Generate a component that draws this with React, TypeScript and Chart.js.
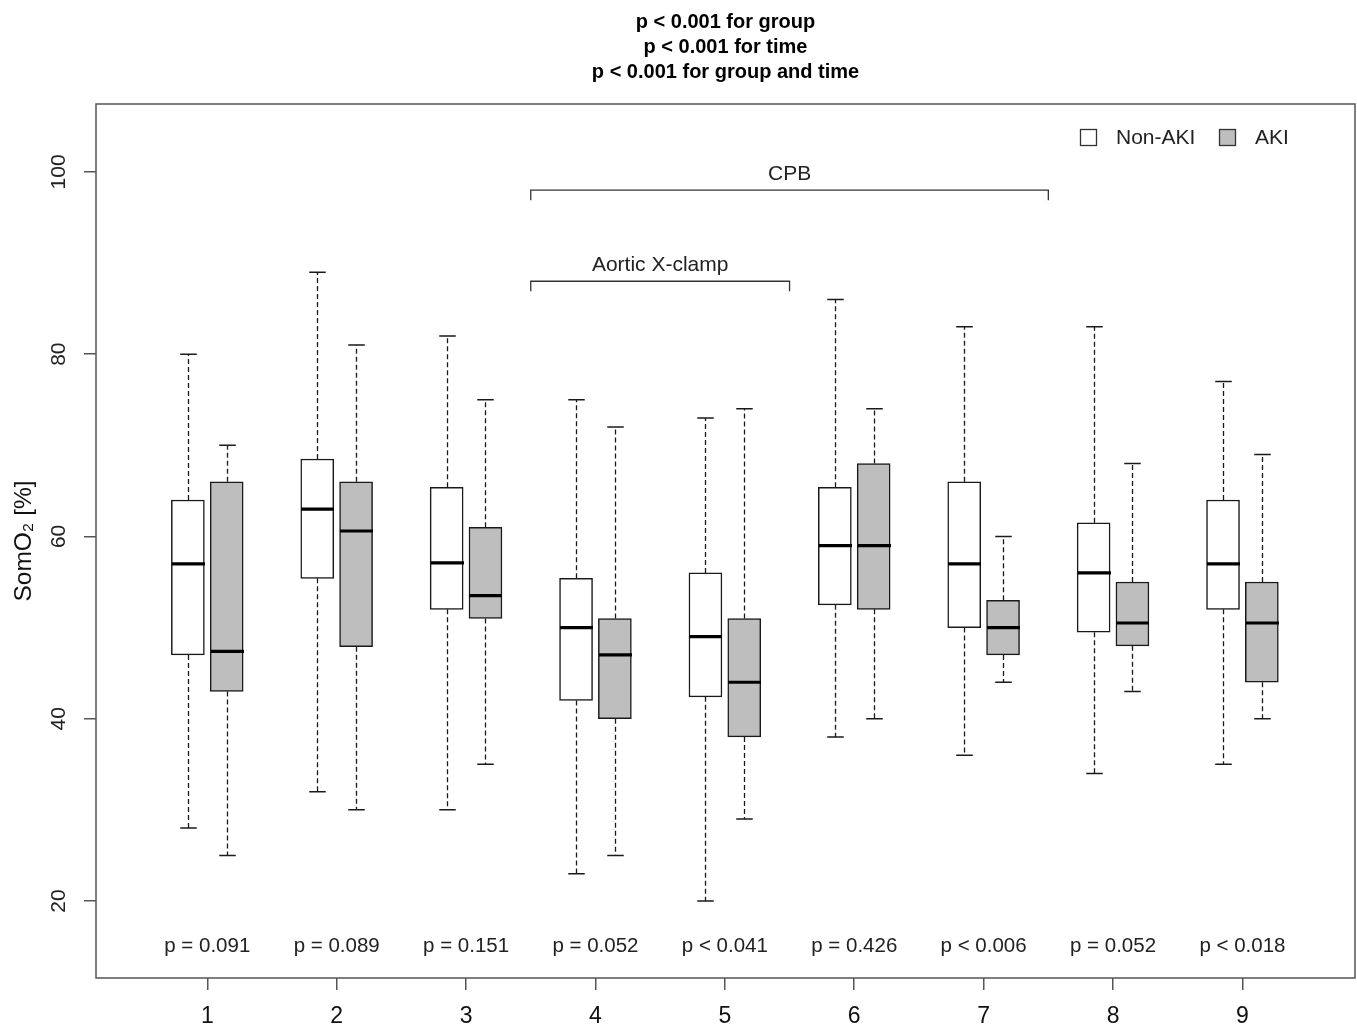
import React, { useEffect, useRef } from "react";
import { Chart, registerables } from "chart.js";

Chart.register(...registerables);

// ---- data ----
const timePoints = ["1", "2", "3", "4", "5", "6", "7", "8", "9"];

const nonAkiMin = [28, 32, 30, 23, 20, 38, 36, 34, 35];
const nonAkiQ1 = [47, 55.4, 52, 42, 42.4, 52.5, 50, 49.5, 52];
const nonAkiMedian = [57, 63, 57.1, 50, 49, 59, 57, 56, 57];
const nonAkiQ3 = [64, 68.5, 65.4, 55.4, 56, 65.4, 66, 61.5, 64];
const nonAkiMax = [80, 89, 82, 75, 73, 86, 83, 83, 77];

const akiMin = [25, 30, 35, 25, 29, 40, 44, 43, 40];
const akiQ1 = [43, 47.9, 51, 40, 38, 52, 47, 48, 44];
const akiMedian = [47.4, 60.6, 53.5, 47, 44, 59, 50, 50.5, 50.5];
const akiQ3 = [66, 66, 61, 51, 51, 68, 53, 55, 55];
const akiMax = [70, 81, 75, 72, 74, 74, 60, 68, 69];

const pValues = [
  "p = 0.091",
  "p = 0.089",
  "p = 0.151",
  "p = 0.052",
  "p < 0.041",
  "p = 0.426",
  "p < 0.006",
  "p = 0.052",
  "p < 0.018",
];

const yTicks = [20, 40, 60, 80, 100];
const titleLines = ["p < 0.001 for group", "p < 0.001 for time", "p < 0.001 for group and time"];
const seriesNames = ["Non-AKI", "AKI"];

// brackets: [label, fromTime, toTime, level]
const brackets: [string, number, number, number][] = [
  ["CPB", 3.5, 7.5, 98],
  ["Aortic X-clamp", 3.5, 5.5, 88],
];

// ---- styles ----
const FONT = "'Liberation Sans', Arial, sans-serif";
const OFFSET = 0.15;
const BOX_W = 33;
const AKI_FILL = "#bebebe";
const LINE = "#1a1a1a";
const AXIS = "#555555";
const P_LEVEL = 15;

const boxPlugin = {
  id: "boxExtras",
  afterDatasetsDraw(chart: any) {
    const { ctx, chartArea } = chart;
    const x = chart.scales.x;
    const y = chart.scales.y;
    ctx.save();

    const groups = [
      { off: -OFFSET, mins: nonAkiMin, q1: nonAkiQ1, med: nonAkiMedian, q3: nonAkiQ3, maxs: nonAkiMax },
      { off: OFFSET, mins: akiMin, q1: akiQ1, med: akiMedian, q3: akiQ3, maxs: akiMax },
    ];
    groups.forEach((g) => {
      timePoints.forEach((_, i) => {
        const cx = Math.round(x.getPixelForValue(i + 1 + g.off)) + 0.5;
        const yMin = y.getPixelForValue(g.mins[i]);
        const yMax = y.getPixelForValue(g.maxs[i]);
        const yQ1 = y.getPixelForValue(g.q1[i]);
        const yQ3 = y.getPixelForValue(g.q3[i]);
        const yMed = y.getPixelForValue(g.med[i]);
        // dashed whiskers
        ctx.strokeStyle = LINE;
        ctx.lineWidth = 1.3;
        ctx.setLineDash([5, 3]);
        ctx.beginPath();
        ctx.moveTo(cx, yQ3);
        ctx.lineTo(cx, yMax);
        ctx.moveTo(cx, yQ1);
        ctx.lineTo(cx, yMin);
        ctx.stroke();
        ctx.setLineDash([]);
        // caps
        ctx.lineWidth = 1.5;
        ctx.beginPath();
        ctx.moveTo(cx - BOX_W / 4, yMax);
        ctx.lineTo(cx + BOX_W / 4, yMax);
        ctx.moveTo(cx - BOX_W / 4, yMin);
        ctx.lineTo(cx + BOX_W / 4, yMin);
        ctx.stroke();
        // median
        ctx.lineWidth = 3.2;
        ctx.strokeStyle = "#000";
        ctx.beginPath();
        ctx.moveTo(cx - BOX_W / 2, yMed);
        ctx.lineTo(cx + BOX_W / 2, yMed);
        ctx.stroke();
      });
    });

    // p-values
    ctx.fillStyle = "#222";
    ctx.font = `20.5px ${FONT}`;
    ctx.textAlign = "center";
    ctx.textBaseline = "middle";
    pValues.forEach((p, i) => {
      ctx.fillText(p, x.getPixelForValue(i + 1), y.getPixelForValue(P_LEVEL));
    });

    // brackets
    ctx.strokeStyle = "#333";
    ctx.lineWidth = 1.3;
    ctx.font = `21px ${FONT}`;
    brackets.forEach(([label, a, b, level]) => {
      const xa = x.getPixelForValue(a);
      const xb = x.getPixelForValue(b);
      const yl = y.getPixelForValue(level);
      const yd = y.getPixelForValue(level - 1.1);
      ctx.beginPath();
      ctx.moveTo(xa, yd);
      ctx.lineTo(xa, yl);
      ctx.lineTo(xb, yl);
      ctx.lineTo(xb, yd);
      ctx.stroke();
      ctx.fillText(label, (xa + xb) / 2, y.getPixelForValue(level + 1.75));
    });

    // legend
    const ly = chartArea.top + 33;
    const items = [
      { name: seriesNames[0], fill: "#ffffff", sx: chartArea.right - 275, tx: chartArea.right - 239 },
      { name: seriesNames[1], fill: AKI_FILL, sx: chartArea.right - 136, tx: chartArea.right - 100 },
    ];
    ctx.textAlign = "left";
    ctx.font = `21px ${FONT}`;
    items.forEach((it) => {
      ctx.fillStyle = it.fill;
      ctx.fillRect(it.sx, ly - 8, 16, 16);
      ctx.strokeStyle = "#333";
      ctx.lineWidth = 1.3;
      ctx.strokeRect(it.sx + 0.5, ly - 7.5, 16, 16);
      ctx.fillStyle = "#222";
      ctx.fillText(it.name, it.tx, ly + 1);
    });

    ctx.restore();
  },
  afterDraw(chart: any) {
    const { ctx, chartArea } = chart;
    const y = chart.scales.y;
    ctx.save();
    // plot frame
    ctx.strokeStyle = AXIS;
    ctx.lineWidth = 1.5;
    ctx.strokeRect(chartArea.left, chartArea.top, chartArea.right - chartArea.left, chartArea.bottom - chartArea.top);
    // rotated y tick labels
    ctx.fillStyle = "#222";
    ctx.font = `21px ${FONT}`;
    ctx.textAlign = "center";
    ctx.textBaseline = "middle";
    y.ticks.forEach((t: any) => {
      const py = y.getPixelForValue(t.value);
      ctx.save();
      ctx.translate(59, py);
      ctx.rotate(-Math.PI / 2);
      ctx.fillText(String(t.value), 0, 0);
      ctx.restore();
    });
    ctx.restore();
  },
};

export default function App() {
  const ref = useRef<HTMLCanvasElement | null>(null);
  useEffect(() => {
    if (!ref.current) return;
    const chart = new Chart(ref.current, {
      type: "bar",
      data: {
        datasets: [
          {
            label: seriesNames[0],
            data: timePoints.map((_, i) => ({ x: i + 1 - OFFSET, y: [nonAkiQ1[i], nonAkiQ3[i]] })) as any,
            backgroundColor: "#ffffff",
            borderColor: LINE,
            borderWidth: 1.5,
            borderSkipped: false,
            barThickness: BOX_W,
            grouped: false,
          },
          {
            label: seriesNames[1],
            data: timePoints.map((_, i) => ({ x: i + 1 + OFFSET, y: [akiQ1[i], akiQ3[i]] })) as any,
            backgroundColor: AKI_FILL,
            borderColor: LINE,
            borderWidth: 1.5,
            borderSkipped: false,
            barThickness: BOX_W,
            grouped: false,
          },
        ],
      },
      options: {
        responsive: false,
        animation: false,
        layout: { padding: { left: 0, right: 2, top: 0, bottom: 0 } },
        plugins: {
          legend: { display: false },
          tooltip: { enabled: false },
          title: {
            display: true,
            text: titleLines,
            fullSize: false,
            color: "#000",
            font: { family: FONT, size: 20, weight: "bold", lineHeight: 1.25 },
            padding: { top: 10, bottom: 19 },
          },
        },
        scales: {
          x: {
            type: "linear",
            min: 0.14,
            max: 9.87,
            offset: false,
            afterBuildTicks: (scale: any) => {
              scale.ticks = timePoints.map((_, i) => ({ value: i + 1 }));
            },
            afterFit: (scale: any) => {
              scale.height = 50;
            },
            ticks: {
              callback: (v: any) => timePoints[Number(v) - 1] ?? "",
              font: { family: FONT, size: 23 },
              color: "#111",
              padding: 13,
              autoSkip: false,
              maxRotation: 0,
            },
            grid: { offset: false, drawOnChartArea: false, drawTicks: true, tickLength: 12, color: AXIS, lineWidth: 1.5 },
            border: { display: false },
          },
          y: {
            type: "linear",
            min: 11.55,
            max: 107.45,
            afterBuildTicks: (scale: any) => {
              scale.ticks = yTicks.map((v) => ({ value: v }));
            },
            afterFit: (scale: any) => {
              scale.width = 96;
            },
            ticks: { display: false },
            grid: { drawOnChartArea: false, drawTicks: true, tickLength: 12, color: AXIS, lineWidth: 1.5 },
            border: { display: false },
            title: {
              display: true,
              text: "SomO₂ [%]",
              color: "#111",
              font: { family: FONT, size: 24.5 },
              padding: { top: 10, bottom: 0 },
            },
          },
        },
      },
      plugins: [boxPlugin],
    } as any);
    return () => chart.destroy();
  }, []);
  return (
    <div style={{ position: "fixed", left: 0, top: 0, width: 1357, height: 1028, background: "#fff" }}>
      <canvas ref={ref} width={1357} height={1028} style={{ display: "block" }} />
    </div>
  );
}
